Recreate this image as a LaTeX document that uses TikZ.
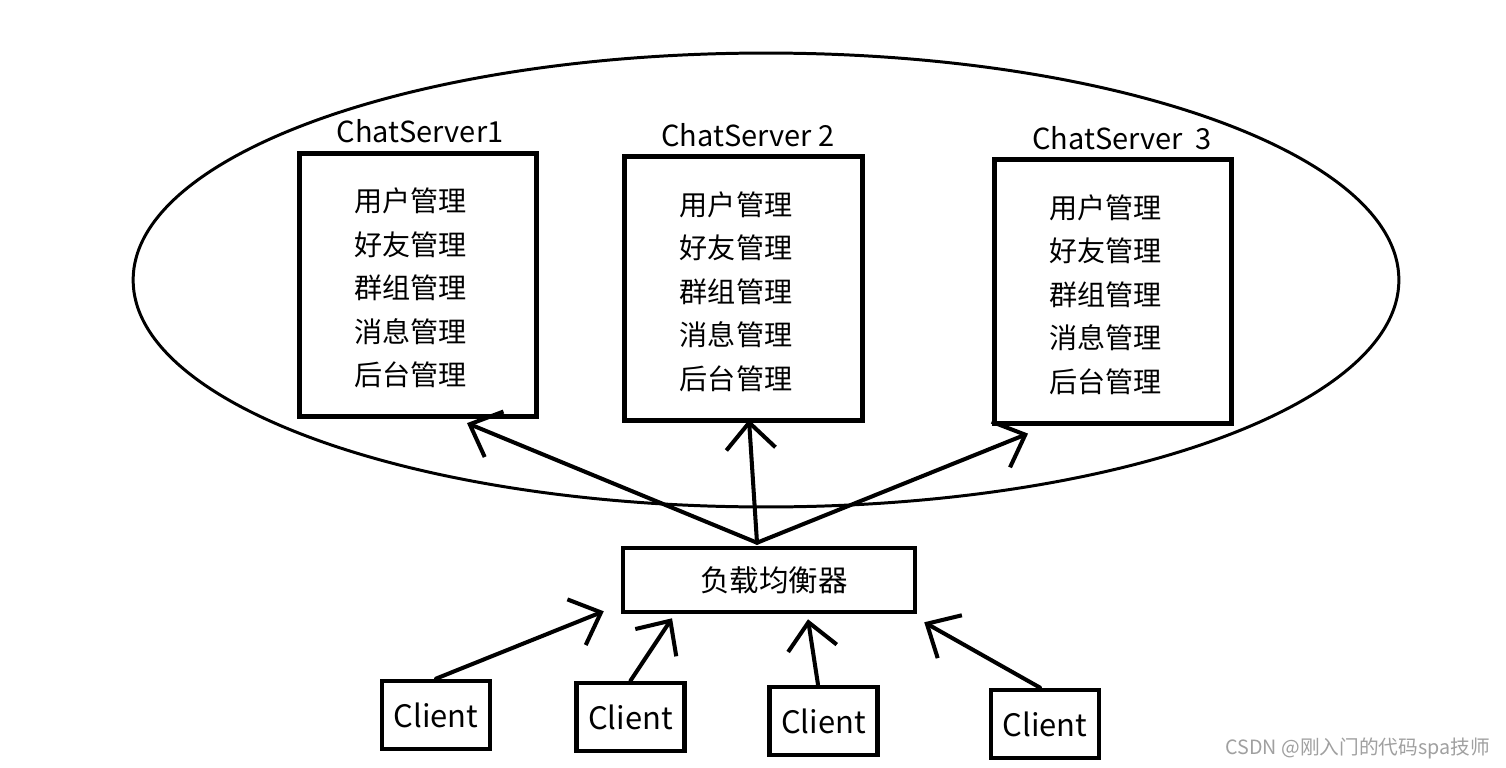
\documentclass[tikz,border=0pt]{standalone}
\usepackage{fontspec}
\setmainfont{Noto Sans CJK SC}
\usetikzlibrary{positioning,arrows.meta}
\definecolor{ink}{HTML}{000000}
\definecolor{wm}{HTML}{A0A0A0}
\tikzset{
  srv/.style={draw=ink, line width=2.7pt, minimum width=4.75cm, minimum height=5.27cm,
    align=center, inner sep=0pt, font=\fontsize{16}{24.7}\selectfont},
  title/.style={font=\fontsize{16.5}{18}\selectfont, inner sep=0pt},
  lb/.style={draw=ink, line width=2.6pt, minimum width=5.84cm, minimum height=1.28cm,
    inner sep=0pt, font=\fontsize{16.8}{18}\selectfont},
  cli/.style={draw=ink, line width=2.7pt, minimum width=2.16cm, minimum height=1.36cm,
    inner sep=0pt, font=\fontsize{17.6}{20}\selectfont},
  req/.style={-{Straight Barb[length=15pt,width=28pt]}, line width=2.3pt, color=ink,
    line cap=round},
}
\begin{document}
\begin{tikzpicture}[x=0.02cm,y=-0.02cm]
  \useasboundingbox (0,0) rectangle (1506,767);
  \fill[white] (0,0) rectangle (1506,767);
  % cluster
  \draw[line width=1.7pt] (766,280) ellipse [x radius=12.66cm, y radius=4.54cm];
  % servers
  \node[srv] (s1) at (418,285) {\hspace*{-0.3cm}\rule{0pt}{17pt}用户管理\\\hspace*{-0.3cm}好友管理\\\hspace*{-0.3cm}群组管理\\\hspace*{-0.3cm}消息管理\\\hspace*{-0.3cm}后台管理};
  \node[srv] (s2) at (743.5,288.5) {\hspace*{-0.3cm}\rule{0pt}{17pt}用户管理\\\hspace*{-0.3cm}好友管理\\\hspace*{-0.3cm}群组管理\\\hspace*{-0.3cm}消息管理\\\hspace*{-0.3cm}后台管理};
  \node[srv] (s3) at (1113,291.5) {\hspace*{-0.3cm}\rule{0pt}{17pt}用户管理\\\hspace*{-0.3cm}好友管理\\\hspace*{-0.3cm}群组管理\\\hspace*{-0.3cm}消息管理\\\hspace*{-0.3cm}后台管理};
  \node[title] (t1) at (420,131) {ChatServer1};
  \node[title] (t2) at (748,135) {ChatServer 2};
  \node[title] (t3) at (1122,138) {ChatServer\ \ 3};
  % load balancer
  \node[lb] (lb) at (769,580) {\hspace*{0.2cm}负载均衡器};
  % clients
  \node[cli] (c1) at (436,715) {Client};
  \node[cli] (c2) at (630.5,717) {Client};
  \node[cli] (c3) at (823.5,721) {Client};
  \node[cli] (c4) at (1045,724) {Client};
  % lb -> servers
  \draw[req] ([xshift=-0.24cm,yshift=0.06cm]lb.north) -- ([xshift=0.98cm,yshift=-0.08cm]s1.south);
  \draw[req] ([xshift=-0.24cm,yshift=0.06cm]lb.north) -- ([xshift=0.11cm,yshift=0.06cm]s2.south);
  \draw[req] ([xshift=-0.24cm,yshift=0.06cm]lb.north) -- ([xshift=-1.7cm,yshift=-0.16cm]s3.south);
  % clients -> lb
  \draw[req] (c1.north) -- ([xshift=-0.34cm,yshift=0.06cm]lb.south west);
  \draw[req] (c2.north) -- ([xshift=-1.94cm,yshift=-0.08cm]lb.south);
  \draw[req] ([xshift=-0.11cm]c3.north) -- ([xshift=0.78cm,yshift=-0.1cm]lb.south);
  \draw[req] ([xshift=-0.1cm]c4.north) -- ([xshift=0.14cm,yshift=-0.16cm]lb.south east);
  \node[anchor=east, text=wm, font=\fontsize{11.2}{12}\selectfont, inner sep=0pt] (wmk) at (1490,748) {CSDN @刚入门的代码spa技师};
\end{tikzpicture}
\end{document}
